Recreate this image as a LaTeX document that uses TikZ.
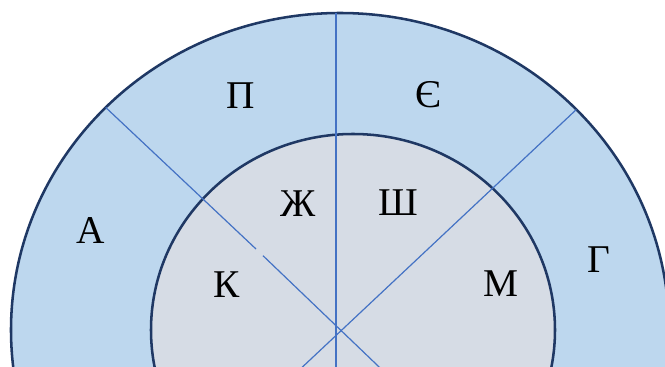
\documentclass[tikz,border=0pt]{standalone}
\usepackage{fontspec}
\setmainfont{Liberation Serif}
\usetikzlibrary{calc}
\definecolor{ringbg}{HTML}{BDD7EE}
\definecolor{corebg}{HTML}{D6DCE5}
\definecolor{rim}{HTML}{1F3864}
\definecolor{spoke}{HTML}{4472C4}
\tikzset{
  ring/.style={draw=rim, line width=1.9pt},
  cut/.style={draw=spoke, line width=0.9pt},
  lbl/.style={font=\fontsize{29.5}{32}\selectfont, inner sep=0pt},
}
\begin{document}
\begin{tikzpicture}[x=0.75pt, y=-0.75pt]
  \useasboundingbox (0,0) rectangle (665,367);
  \begin{scope}
    \clip (0,0) rectangle (665,367);
    % outer ring and core
    \draw[ring, fill=ringbg] (340,330) ellipse [x radius=329, y radius=317];
    \draw[ring, fill=corebg] (353,330) ellipse [x radius=202, y radius=196];
    % dividing lines
    \begin{scope}
      \clip (340,330) ellipse [x radius=329, y radius=317];
      \coordinate (vtop) at (336,0);
      \coordinate (vbot) at (336,367);
      \coordinate (la) at (93,95.5);
      \coordinate (lb) at (256,249);
      \coordinate (lc) at (263,255.7);
      \coordinate (ld) at (400,387);
      \coordinate (ra) at (588,98.6);
      \coordinate (rb) at (290,378.7);
      \draw[cut] (vtop) -- (vbot);
      \draw[cut] (la) -- (lb);
      \draw[cut] (lc) -- (ld);
      \draw[cut] (ra) -- (rb);
    \end{scope}
  \end{scope}
  % outer labels
  \node[lbl] (secP) at (241,96) {П};
  \node[lbl] (secE) at (428,95) {Є};
  \node[lbl] (secA) at (91,231) {А};
  \node[lbl] (secG) at (599,260) {Г};
  % inner labels
  \node[lbl] (secZh) at (298,204) {Ж};
  \node[lbl] (secSh) at (398,203) {Ш};
  \node[lbl] (secK) at (227,285) {К};
  \node[lbl] (secM) at (501,284) {М};
\end{tikzpicture}
\end{document}
